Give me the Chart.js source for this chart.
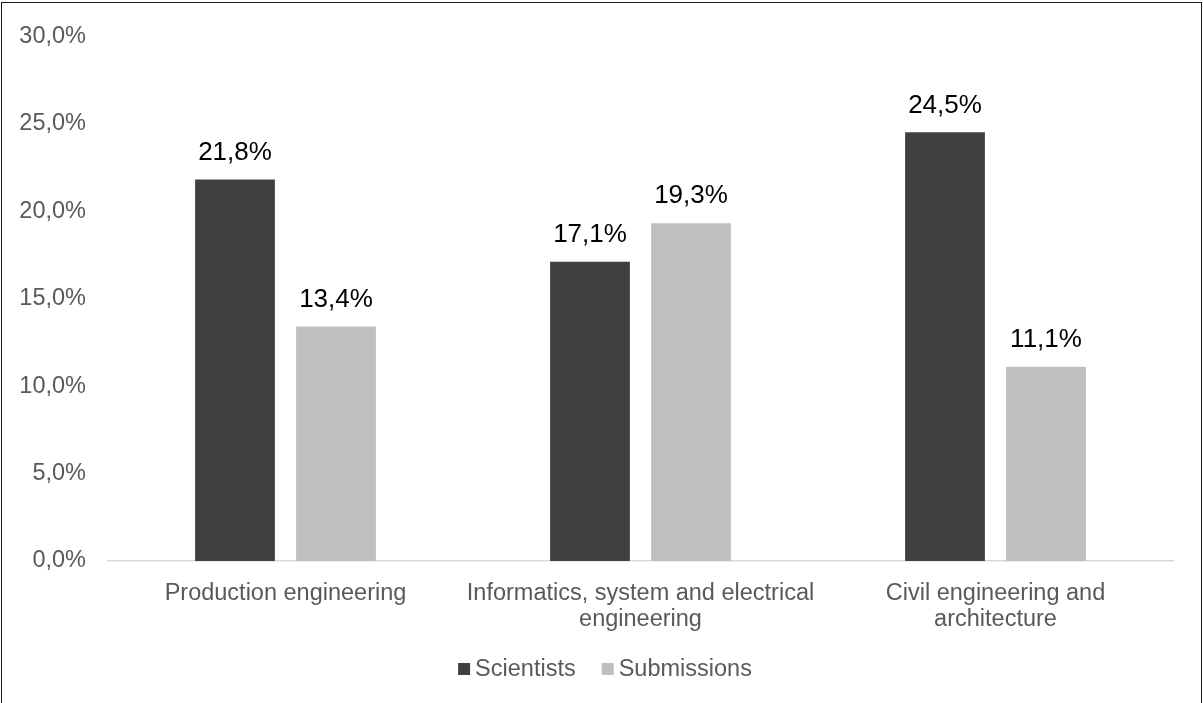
<!DOCTYPE html>
<html>
<head>
<meta charset="utf-8">
<script src="https://cdn.jsdelivr.net/npm/chart.js@4/dist/chart.umd.min.js"></script>
<style>
  html, body { margin: 0; padding: 0; background: #fff; }
  #wrap { position: relative; width: 1203px; height: 703px; overflow: hidden; }
  #frame {
    position: absolute; left: 1px; top: 2px; width: 1201px; height: 800px;
    box-sizing: border-box; border: 1.5px solid #1a1a1a; pointer-events: none;
  }
  canvas { display: block; }
</style>
</head>
<body>
<div id="wrap">
  <canvas id="myChart" width="1203" height="703"></canvas>
  <div id="frame"></div>
</div>
<script>
// categories and shares (percent)
const categories = [
    'Production engineering',
    ['Informatics, system and electrical', 'engineering'],
    ['Civil engineering and', 'architecture']
];
const seriesNames = ['Scientists', 'Submissions'];
const scientists = [21.8, 17.1, 24.5];
const submissions = [13.4, 19.3, 11.1];
const yMin = 0, yMax = 30, yStep = 5;

const FONT = '"Liberation Sans", Arial, sans-serif';
const colors = ['#404040', '#bfbfbf'];

function pct(v) {
    return v.toFixed(1).replace('.', ',') + '%';
}

// value labels above each bar
const barLabels = {
    id: 'barLabels',
    afterDatasetsDraw(chart) {
        const ctx = chart.ctx;
        ctx.save();
        ctx.font = '26px ' + FONT;
        ctx.fillStyle = '#000';
        ctx.textAlign = 'center';
        ctx.textBaseline = 'middle';
        chart.data.datasets.forEach((ds, i) => {
            chart.getDatasetMeta(i).data.forEach((bar, j) => {
                ctx.fillText(pct(ds.data[j]), bar.x, bar.y - 27);
            });
        });
        ctx.restore();
    }
};

// legend drawn under the axis, small square + name
const bottomLegend = {
    id: 'bottomLegend',
    afterDraw(chart) {
        const ctx = chart.ctx;
        const box = 12, gap = 5, spacing = 26, y = 669;
        ctx.save();
        ctx.font = '23.5px ' + FONT;
        ctx.textBaseline = 'middle';
        const widths = seriesNames.map(n => box + gap + ctx.measureText(n).width);
        const total = widths.reduce((a, b) => a + b, 0) + spacing * (widths.length - 1);
        let x = 605 - total / 2;
        seriesNames.forEach((n, i) => {
            ctx.fillStyle = colors[i];
            ctx.fillRect(x, y - box / 2, box, box);
            ctx.fillStyle = '#595959';
            ctx.textAlign = 'left';
            ctx.fillText(n, x + box + gap, y + 1);
            x += widths[i] + spacing;
        });
        ctx.restore();
    }
};

const ctx = document.getElementById('myChart').getContext('2d');
const chart = new Chart(ctx, {
    type: 'bar',
    data: {
        labels: categories,
        datasets: [
            { label: seriesNames[0], data: scientists, backgroundColor: colors[0] },
            { label: seriesNames[1], data: submissions, backgroundColor: colors[1] }
        ]
    },
    options: {
        responsive: false,
        animation: false,
        layout: { padding: { top: 32, right: 30, bottom: 62, left: 0 } },
        datasets: {
            bar: { categoryPercentage: 0.569, barPercentage: 0.79 }
        },
        plugins: {
            legend: { display: false },
            tooltip: { enabled: false }
        },
        scales: {
            x: {
                grid: { display: false, drawTicks: false },
                border: { display: true, color: '#d9d9d9', width: 1.5 },
                ticks: {
                    color: '#595959',
                    font: { family: FONT, size: 23.5, lineHeight: 1.11 },
                    padding: 19,
                    maxRotation: 0,
                    autoSkip: false
                },
                afterFit(scale) { scale.height = 80; }
            },
            y: {
                min: yMin,
                max: yMax,
                grid: { display: false, drawTicks: false },
                border: { display: false },
                ticks: {
                    stepSize: yStep,
                    color: '#595959',
                    font: { family: FONT, size: 23.5 },
                    padding: 22,
                    callback: v => pct(v)
                },
                afterFit(scale) { scale.width = 108; }
            }
        }
    },
    plugins: [barLabels, bottomLegend]
});
</script>
</body>
</html>
